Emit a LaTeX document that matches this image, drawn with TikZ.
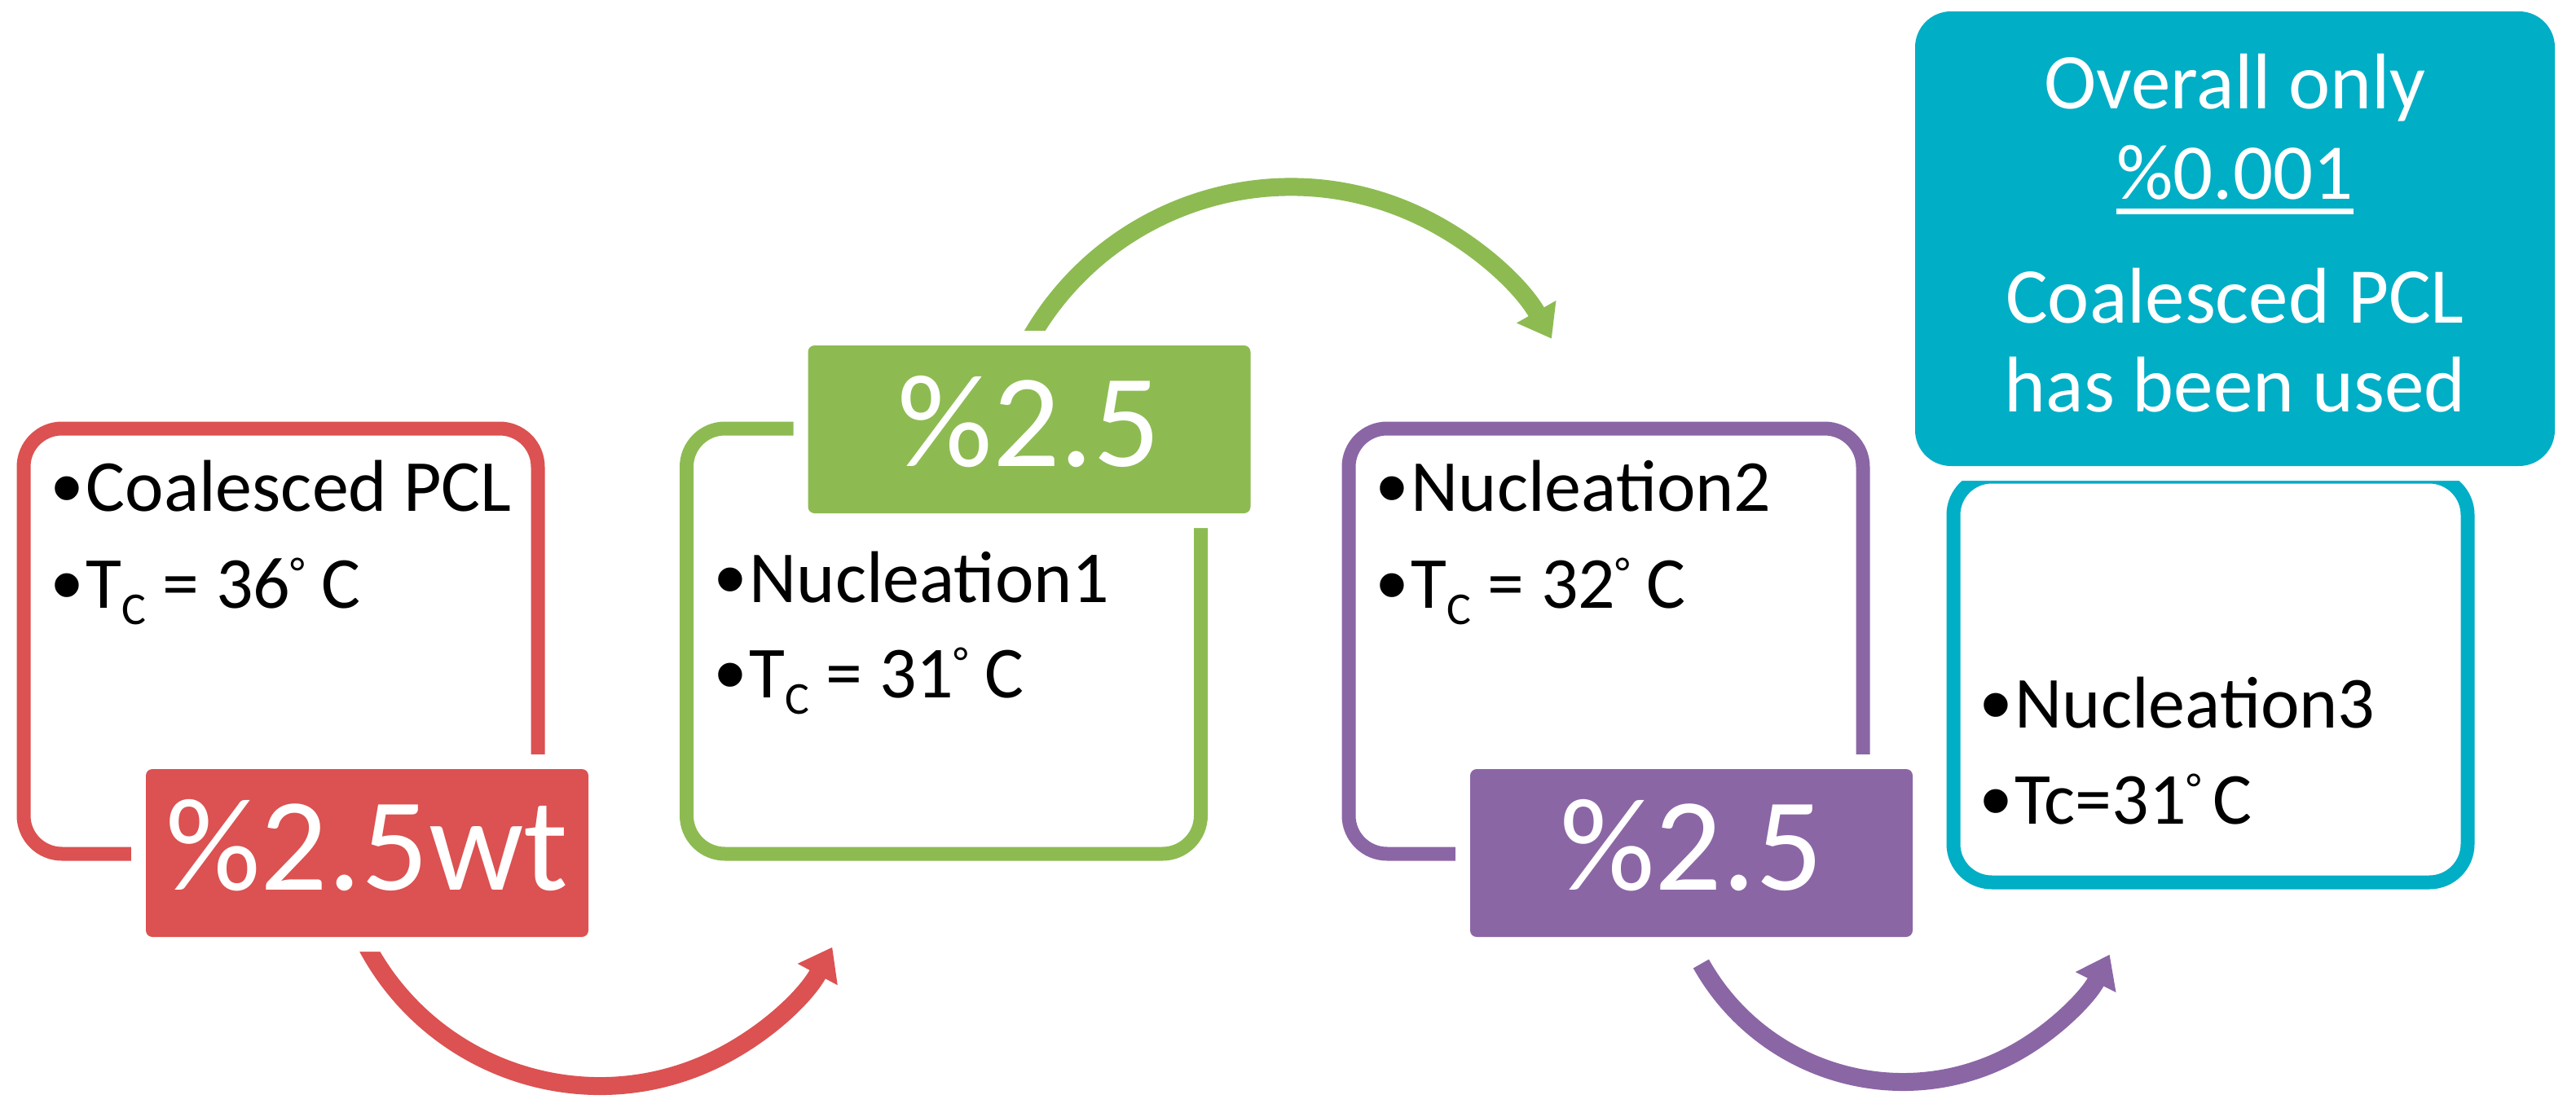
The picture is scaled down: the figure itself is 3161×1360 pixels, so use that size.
\documentclass[tikz,border=0pt]{standalone}
\usepackage{fontspec}
\setmainfont{Carlito}
\newfontfamily\bulfont{Liberation Sans}
\usetikzlibrary{arrows.meta}
\definecolor{cred}{RGB}{220,81,81}
\definecolor{cgreen}{RGB}{141,187,82}
\definecolor{cpurple}{RGB}{139,102,165}
\definecolor{ccyan}{RGB}{0,174,198}
\newcommand\bul{\makebox[10.5pt][l]{\raisebox{-2.2pt}{\fontsize{27}{27}\bulfont •}}}
\newcommand\subC{\raisebox{-5pt}{\fontsize{14}{14}\selectfont C}}
\newcommand\dg{{\fontsize{13}{13}\selectfont\raisebox{6.5pt}{°}}}
\newsavebox\ulbox
\newcommand\myul[1]{\sbox\ulbox{#1}\rlap{\rule[-4.75pt]{\wd\ulbox}{1.75pt}}\usebox\ulbox}
\tikzset{
  outl/.style={draw=#1, line width=4.25pt, rounded corners=11.75pt,
    minimum width=157.75pt, minimum height=130.5pt, inner sep=0pt},
  pbox/.style={fill=#1, rounded corners=2pt, minimum width=135.75pt,
    minimum height=51.5pt, inner sep=0pt, text=white,
    font=\fontsize{40.75}{40.75}\selectfont, text height=26pt, text depth=3.5pt,
    preaction={draw=white, line width=9pt}},
  arr/.style={draw=#1, line width=5.5pt, -{Triangle[length=9.5pt,width=13.25pt]}},
  btxt/.style={anchor=base west, inner sep=0pt, font=\fontsize{22.5}{27}\selectfont},
  ctxt/.style={anchor=base, inner sep=0pt, text=white, font=\fontsize{24.25}{28}\selectfont},
}
\begin{document}
\begin{tikzpicture}[x=0.25pt,y=-0.25pt]
\useasboundingbox[fill=white] (0,0) rectangle (3161,1360);
% outlines
\node[outl=cred] (ro) at (344.5,787) {};
\node[outl=cgreen] (go) at (1158,787) {};
\node[outl=cpurple] (po) at (1970.5,787) {};
\node[outl=ccyan, minimum height=124.5pt] (co) at (2712.5,834) {};
% arrow centres
\coordinate (rc) at (736,1009);
\coordinate (gc) at (1584,597.5);
\coordinate (pc) at (2335,1044);
\draw[arr=cred] ([shift={(205:81pt)}]rc) arc[start angle=205, end angle=331.7, radius=81pt];
\draw[arr=cgreen] ([shift={(155:92pt)}]gc) arc[start angle=155, end angle=29.6, radius=92pt];
\draw[arr=cpurple] ([shift={(209.3:71pt)}]pc) arc[start angle=209.3, end angle=333.3, radius=71pt];
% filled boxes
\node[pbox=cred] (rb) at (450.5,1047) {\%2.5wt};
\node[pbox=cgreen] (gb) at (1263,527) {\%2.5};
\node[pbox=cpurple] (pb) at (2075.5,1047) {\%2.5};
\node[fill=ccyan, rounded corners=11pt, minimum width=196.25pt, minimum height=139.5pt,
  inner sep=0pt, preaction={draw=white, line width=9pt}] (cb) at (2742.5,293) {};
% texts
\node[btxt] (r1) at (63,627) {\bul Coalesced PCL};
\node[btxt] (r2) at (63,746) {\bul T\subC{} = 36\dg{} C};
\node[btxt] (g1) at (877,739) {\bul Nucleation1};
\node[btxt] (g2) at (877,856) {\bul T\subC{} = 31\dg{} C};
\node[btxt] (p1) at (1689,627) {\bul Nucleation2};
\node[btxt] (p2) at (1689,746) {\bul T\subC{} = 32\dg{} C};
\node[btxt] (c1) at (2430,893) {\bul Nucleation3};
\node[btxt] (c2) at (2430,1011) {\bul Tc=31\dg\,C};
\node[ctxt] (t1) at (2742.5,133) {Overall only};
\node[ctxt] (t2) at (2742.5,244) {\myul{\%0.001}};
\node[ctxt] (t3) at (2742.5,396) {Coalesced PCL};
\node[ctxt] (t4) at (2742.5,505) {has been used};
\end{tikzpicture}
\end{document}
